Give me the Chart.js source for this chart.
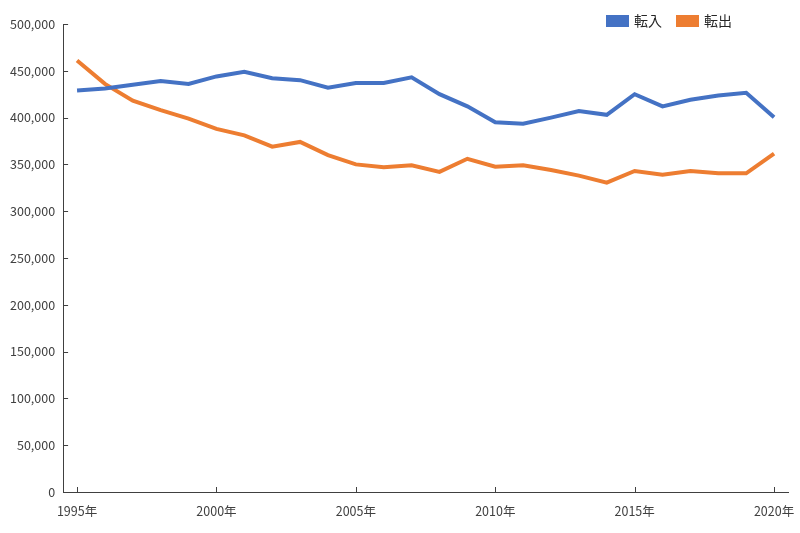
<!DOCTYPE html>
<html>
<head>
<meta charset="utf-8">
<script src="https://cdn.jsdelivr.net/npm/chart.js@4.4.1/dist/chart.umd.min.js"></script>
<style>
  html, body { margin: 0; padding: 0; background: #fff; }
  #wrap { width: 800px; height: 533px; }
</style>
</head>
<body>
<div id="wrap"><canvas id="migrationChart"></canvas></div>
<script>
// 年（カテゴリ）
const years = ['1995','1996','1997','1998','1999','2000','2001','2002','2003','2004','2005','2006','2007',
  '2008','2009','2010','2011','2012','2013','2014','2015','2016','2017','2018','2019','2020'];
// 転入・転出（人）
const tennyu = [429000, 431000, 435000, 439000, 436000, 444000, 449000, 442000, 440000, 432000, 437000, 437000, 443000,
  425000, 412000, 395000, 393500, 400000, 407000, 403000, 425000, 412000, 419000, 423500, 426500, 400500];
const tenshutsu = [461000, 436000, 418000, 408000, 399000, 388000, 381000, 369000, 374000, 360000, 350000, 347000, 349000,
  342000, 356000, 347500, 349000, 344000, 338000, 330500, 343000, 339000, 343000, 340500, 340500, 361500];
// 表示するX軸ラベル
const shownYears = ['1995','2000','2005','2010','2015','2020'];

const axisColor = '#404040';
const labelColor = '#404040';
const fontFamily = '"Noto Sans CJK JP", "Noto Sans", sans-serif';

// 目盛り線を内側に描くプラグイン
const innerTicks = {
  id: 'innerTicks',
  afterDraw(chart) {
    const { ctx, chartArea, scales } = chart;
    ctx.save();
    ctx.strokeStyle = axisColor;
    ctx.lineWidth = 1;
    ctx.beginPath();
    scales.y.ticks.forEach((t, i) => {
      const y = Math.round(scales.y.getPixelForTick(i)) + 0.5;
      ctx.moveTo(chartArea.left, y);
      ctx.lineTo(chartArea.left + 5, y);
    });
    years.forEach((yr, i) => {
      if (!shownYears.includes(yr)) return;
      const x = Math.round(scales.x.getPixelForValue(i)) + 0.5;
      ctx.moveTo(x, chartArea.bottom);
      ctx.lineTo(x, chartArea.bottom - 5);
    });
    ctx.stroke();
    ctx.restore();
  }
};

// 凡例をグラフ領域に少し重ね、右端から離して描く
const legendShrink = 14;
const legendRightGap = 52;
const legendOverlap = {
  id: 'legendOverlap',
  beforeUpdate(chart) {
    const lg = chart.legend;
    if (lg && !lg._patched) {
      const fit = lg.fit;
      const draw = lg.draw;
      lg.fit = function () {
        fit.call(this);
        this.height = Math.max(0, this.height - legendShrink);
      };
      lg.draw = function () {
        const h = this.height, b = this.bottom, r = this.right;
        this.height = h + legendShrink;
        this.bottom = b + legendShrink;
        this.right = r - legendRightGap;
        draw.call(this);
        this.height = h; this.bottom = b; this.right = r;
      };
      lg._patched = true;
    }
  }
};

const ctx = document.getElementById('migrationChart').getContext('2d');
new Chart(ctx, {
  type: 'line',
  data: {
    labels: years,
    datasets: [
      {
        label: '転入',
        data: tennyu,
        borderColor: '#4472C4',
        backgroundColor: '#4472C4',
        borderWidth: 4,
        pointRadius: 0,
        tension: 0
      },
      {
        label: '転出',
        data: tenshutsu,
        borderColor: '#ED7D31',
        backgroundColor: '#ED7D31',
        borderWidth: 4,
        pointRadius: 0,
        tension: 0
      }
    ]
  },
  options: {
    responsive: true,
    maintainAspectRatio: false,
    animation: false,
    layout: { padding: { top: -2, right: 0, bottom: 2, left: 2 } },
    plugins: {
      legend: {
        display: true,
        position: 'top',
        align: 'end',
        labels: {
          boxWidth: 19,
          boxHeight: 8,
          padding: 16,
          color: '#262626',
          font: { family: fontFamily, size: 14 }
        }
      },
      tooltip: { enabled: false }
    },
    scales: {
      x: {
        offset: true,
        afterFit: scale => { scale.paddingRight = 12; },
        grid: { display: false, drawTicks: false },
        border: { display: true, color: axisColor, width: 1 },
        ticks: {
          autoSkip: false,
          maxRotation: 0,
          padding: 12,
          color: labelColor,
          font: { family: fontFamily, size: 12.5 },
          callback: function (value, index) {
            const yr = years[index];
            return shownYears.includes(yr) ? yr + '年' : '';
          }
        }
      },
      y: {
        min: 0,
        max: 500000,
        grid: { display: false, drawTicks: false },
        border: { display: true, color: axisColor, width: 1 },
        ticks: {
          stepSize: 50000,
          padding: 8,
          color: labelColor,
          font: { family: fontFamily, size: 12.5 },
          callback: value => value.toLocaleString('en-US')
        }
      }
    }
  },
  plugins: [innerTicks, legendOverlap]
});
</script>
</body>
</html>
